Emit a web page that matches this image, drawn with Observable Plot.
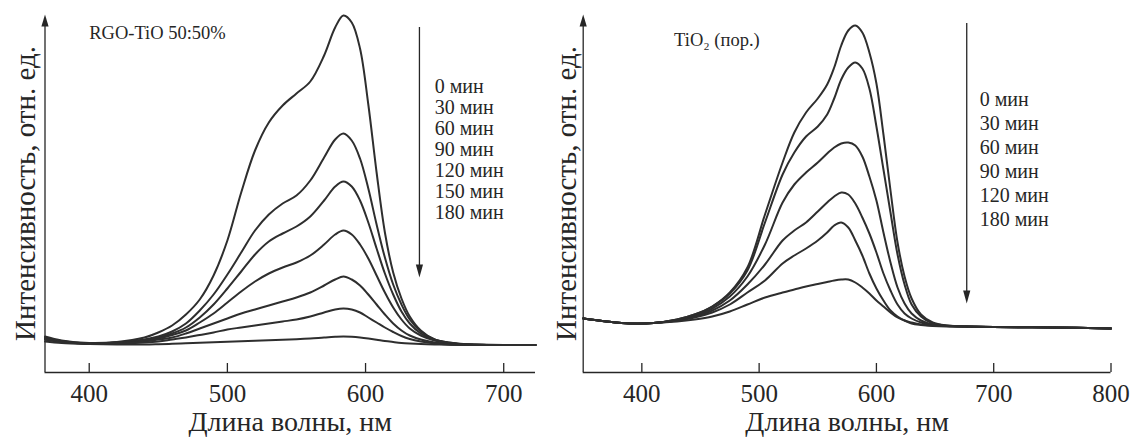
<!DOCTYPE html>
<html><head><meta charset="utf-8">
<script src="https://cdn.jsdelivr.net/npm/d3@7"></script>
<script src="https://cdn.jsdelivr.net/npm/@observablehq/plot@0.6"></script>
<style>
html,body{margin:0;padding:0;background:#fff;}
#wrap{display:flex;width:1131px;height:437px;overflow:hidden;}
svg{display:block;}
</style></head><body><div id="wrap"></div>
<script>
// ---------- Left panel: RGO-TiO 50:50% ----------
const leftWavelengths = [368,380,400,420,440,450,460,470,480,490,500,510,520,530,540,550,560,570,578,584,590,596,602,608,614,620,626,632,640,650,660,675,700,723];
const leftTimes = ["0 мин","30 мин","60 мин","90 мин","120 мин","150 мин","180 мин"];
const leftT0   = [36,32,29.5,30.5,35,40,47,58,73,97,132,180,222,250,267,279,291,317,345,357,350,324,268,200,140,100,74,56,42,33,30,28,27.5,27.5];
const leftT30  = [35,31.5,29,30,33,36,41,49,62,78,98,120,142,158,169,177,192,215,233,239,232,214,184,148,115,88,68,53,41,33,30,28,27.5,27.5];
const leftT60  = [34,31,29,30,32.5,35,39,45,55,68,84,101,118,131,139,146,156,172,186,191,186,172,150,124,99,78,61,49,39,32.5,29.5,28,27.5,27.5];
const leftT90  = [34,31,29,30,32,34,37.5,42,50,59,70,81,91,99,105,110,117,128,138,142,138,128,114,97,80,65,53,44,37,32,29.5,28,27.5,27.5];
const leftT120 = [33,30.5,29,29.5,31,33,35,39,44,49,54,59,63,67,71,75,80,87,93,96,93,87,78,68,58,49,42,37,33,30,28.5,28,27.5,27.5];
const leftT150 = [33,30.5,29,29,30,31,33,35,37.5,40,43,45,47,49,51,53,56,60,63,64,63,60,55,50,45,40.5,36.5,33.5,31,29,28,27.8,27.5,27.5];
const leftT180 = [31,29.5,28.5,28,28,28.3,28.7,29.2,29.8,30.3,30.8,31.3,31.8,32.3,32.8,33.3,34,35,35.7,36,35.7,35,34,32.8,31.5,30.5,29.6,29,28.4,28,27.8,27.6,27.5,27.5];
const leftXDomain = [368, 723];
const leftXTicks = [400, 500, 600, 700];

// ---------- Right panel: TiO2 (пор.) ----------
const rightWavelengths = [350,370,390,410,430,445,460,475,490,505,520,530,540,550,558,564,570,576,582,588,594,600,606,612,618,624,630,638,648,660,675,700,750,800];
const rightTimes = ["0 мин","30 мин","60 мин","90 мин","120 мин","180 мин"];
const rightT0   = [54,51,49,49.5,53,58,66,80,105,158,210,240,260,274,288,305,327,342,347,340,320,289,238,182,130,96,74,58,50,47,46,45.5,45,44];
const rightT30  = [54,51,49,49.5,53,58,66,79,102,150,198,220,236,246,258,274,293,305,310,304,284,246,203,160,118,88,68,56,49,47,46,45.5,45,44];
const rightT60  = [54,51,49,49.5,52.5,57,64,76,96,128,170,188,200,210,219,225,229,230,227,216,196,172,140,110,85,69,59,52,48,46.5,46,45.5,45,44];
const rightT90  = [54,51,49,49.5,52,56,62,72,88,108,132,142,150,161,170,176,180,178,169,155,139,120,99,82,68,59,54,50,47.5,46.5,46,45.5,45,44];
const rightT120 = [54,51,49,49.5,52,55,60,68,80,92,109,117,124,132,140,147,150,145,132,117,99,84,72,62,56,52,50,48,47,46.5,46,45.5,45,44];
const rightT180 = [54,51,49,49.5,51,53,56,61,68,75,80,83,86,88.5,90.5,92,93,93,90,85,79,72,66,60,55,52,49,47.5,46.5,46,46,45.5,45,44];
const rightXDomain = [350, 800];
const rightXTicks = [400, 500, 600, 700, 800];

const yDomain = [0, 358]; // intensity, arbitrary units

const xLabel = "Длина волны, нм";
const yLabel = "Интенсивность, отн. ед.";

const font = "'Liberation Serif', 'Times New Roman', serif";
const ink = "#262626";

const upArrow = {draw(ctx){ctx.moveTo(0,0);ctx.lineTo(3.6,12);ctx.lineTo(-3.6,12);ctx.closePath();}};
const downArrow = {draw(ctx){ctx.moveTo(0,0);ctx.lineTo(3.6,-13);ctx.lineTo(-3.6,-13);ctx.closePath();}};

function toRows(wl, times, series) {
  return times.flatMap((t, i) => wl.map((w, j) => ({w, v: series[i][j], t})));
}

function panel(o) {
  const rows = toRows(o.wavelengths, o.times, o.series);
  return Plot.plot({
    width: o.width, height: 437,
    marginLeft: o.marginLeft, marginRight: o.marginRight, marginTop: 14, marginBottom: 65,
    x: {domain: o.xDomain},
    y: {domain: yDomain, axis: null},
    style: {fontFamily: font, background: "#fff", color: ink, overflow: "visible"},
    marks: [
      Plot.ruleY([yDomain[0]], {stroke: ink, strokeWidth: 1.3}),
      Plot.ruleX([o.xDomain[0]], {stroke: ink, strokeWidth: 1.3, insetTop: 6}),
      Plot.dot([0], {x: () => o.xDomain[0], y: () => yDomain[1], symbol: upArrow, r: 4, fill: ink, stroke: "none"}),
      Plot.ruleX(o.xTicks, {stroke: ink, strokeWidth: 1.3, insetTop: 349}),
      Plot.axisX({ticks: o.xTicks, tickSize: 0, tickPadding: 12, fontSize: 25, label: null, tickFormat: d => String(d)}),
      Plot.text([xLabel], {frameAnchor: "bottom", dy: 58, fontSize: 28, lineAnchor: "bottom", textAnchor: "middle"}),
      Plot.text([yLabel], {frameAnchor: "left", rotate: -90, dx: o.ylabelDx, fontSize: 29, lineAnchor: "middle", textAnchor: "middle"}),
      Plot.line(rows, {x: "w", y: "v", z: "t", stroke: "#2e2e2e", strokeWidth: 2, curve: "catmull-rom"}),
      Plot.text([o.title], {x: () => o.titleX, y: () => o.titleY, textAnchor: "start", fontSize: 18.5}),
      Plot.ruleX([o.arrowX], {y1: o.arrowY[0], y2: o.arrowY[1] + 10, stroke: ink, strokeWidth: 1.3}),
      Plot.dot([0], {x: () => o.arrowX, y: () => o.arrowY[1], symbol: downArrow, r: 4, fill: ink, stroke: "none"}),
      Plot.text([o.times.join("\n")], {x: () => o.legendX, y: () => o.legendY, textAnchor: "start", lineAnchor: "top", fontSize: 20, lineHeight: o.legendLineHeight})
    ]
  });
}

const wrap = document.getElementById("wrap");
wrap.append(panel({
  width: 545, marginLeft: 44.5, marginRight: 10,
  xDomain: leftXDomain, xTicks: leftXTicks,
  wavelengths: leftWavelengths, times: leftTimes,
  series: [leftT0, leftT30, leftT60, leftT90, leftT120, leftT150, leftT180],
  title: "RGO-TiO 50:50%", titleX: 400, titleY: 339,
  arrowX: 639, arrowY: [345, 95],
  legendX: 650, legendY: 294, legendLineHeight: 1.05,
  ylabelDx: -19.5
}));
wrap.append(panel({
  width: 586, marginLeft: 37.7, marginRight: 20.5,
  xDomain: rightXDomain, xTicks: rightXTicks,
  wavelengths: rightWavelengths, times: rightTimes,
  series: [rightT0, rightT30, rightT60, rightT90, rightT120, rightT180],
  title: "TiO₂ (пор.)", titleX: 427.5, titleY: 332,
  arrowX: 677, arrowY: [349, 69],
  legendX: 688, legendY: 284, legendLineHeight: 1.2,
  ylabelDx: -16.7
}));
</script></body></html>
